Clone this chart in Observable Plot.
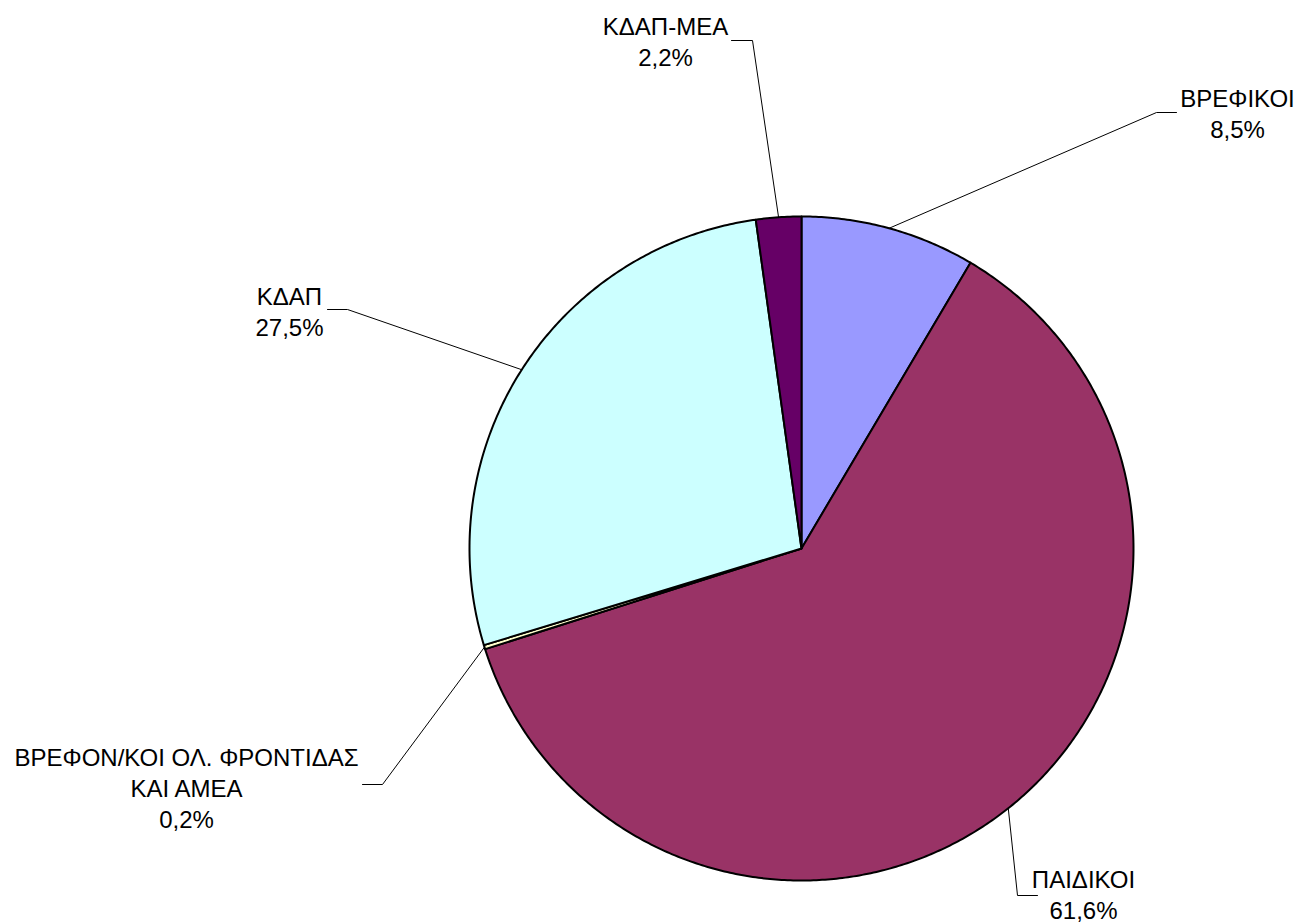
<!DOCTYPE html>
<html>
<head>
<meta charset="utf-8">
<script src="https://cdn.jsdelivr.net/npm/d3@7"></script>
<script src="https://cdn.jsdelivr.net/npm/@observablehq/plot@0.6"></script>
<style>
  html, body { margin: 0; padding: 0; background: #ffffff; }
  #chart svg { display: block; }
</style>
</head>
<body>
<div id="chart"></div>
<script>
// ---- data ----
const categories = ["ΒΡΕΦΙΚΟΙ", "ΠΑΙΔΙΚΟΙ", "ΒΡΕΦΟΝ/ΚΟΙ ΟΛ. ΦΡΟΝΤΙΔΑΣ ΚΑΙ ΑΜΕΑ", "ΚΔΑΠ", "ΚΔΑΠ-ΜΕΑ"];
const labelText = ["ΒΡΕΦΙΚΟΙ", "ΠΑΙΔΙΚΟΙ", "ΒΡΕΦΟΝ/ΚΟΙ ΟΛ. ΦΡΟΝΤΙΔΑΣ\nΚΑΙ ΑΜΕΑ", "ΚΔΑΠ", "ΚΔΑΠ-ΜΕΑ"];
const shares = [8.5, 61.6, 0.2, 27.5, 2.2];

// ---- style / layout ----
const colors = ["#9999FF", "#993366", "#FFFFCC", "#CCFFFF", "#660066"];
const W = 1302, H = 923, CX = 801, CY = 548, R = 332;
// label layout, pixel offsets from pie centre
const labelDx = [436, 282, -615, -512, -136];
const labelDy = [-436, 345, 239, -238, -508];
const endDx = [375, 236, -439, -474, -70];
const endDy = [-436, 347, 236, -239, -508];
const elbowDx = [355, 216, -419, -454, -49];

const fmt = v => d3.format(".1f")(v).replace(".", ",") + "%";
const total = d3.sum(shares);

// slice polygons (unit radius), clockwise from 12 o'clock
const slicePts = [];
const leaderPts = [];
const labels = [];
let acc = 0;
categories.forEach((c, i) => {
  const a0 = acc / total * 2 * Math.PI;
  acc += shares[i];
  const a1 = acc / total * 2 * Math.PI;
  slicePts.push({cat: c, x: 0, y: 0});
  const n = Math.max(2, Math.ceil((a1 - a0) / (Math.PI / 360)));
  for (let k = 0; k <= n; k++) {
    const a = a0 + (a1 - a0) * k / n;
    slicePts.push({cat: c, x: Math.sin(a), y: -Math.cos(a)});
  }
  const am = (a0 + a1) / 2;
  leaderPts.push({cat: c, x: Math.sin(am), y: -Math.cos(am)});
  leaderPts.push({cat: c, x: elbowDx[i] / R, y: endDy[i] / R});
  leaderPts.push({cat: c, x: endDx[i] / R, y: endDy[i] / R});
  labels.push({cat: c, x: labelDx[i] / R, y: labelDy[i] / R, text: labelText[i] + "\n" + fmt(shares[i])});
});

const chart = Plot.plot({
  width: W,
  height: H,
  margin: 0,
  style: {fontFamily: "'Liberation Sans', Arial, sans-serif", background: "#ffffff"},
  x: {domain: [-CX / R, (W - CX) / R], range: [0, W], axis: null},
  y: {domain: [-CY / R, (H - CY) / R], range: [0, H], axis: null},
  color: {domain: categories, range: colors},
  marks: [
    Plot.line(slicePts, {x: "x", y: "y", z: "cat", fill: "cat", stroke: "#000000", strokeWidth: 2,
      strokeLinejoin: "round", curve: "linear-closed"}),
    Plot.line(leaderPts, {x: "x", y: "y", z: "cat", stroke: "#000000", strokeWidth: 1}),
    Plot.text(labels, {x: "x", y: "y", text: "text", fontSize: 24, lineHeight: 1.29,
      fill: "#000000", textAnchor: "middle", lineAnchor: "middle"})
  ]
});
document.getElementById("chart").appendChild(chart);
</script>
</body>
</html>
